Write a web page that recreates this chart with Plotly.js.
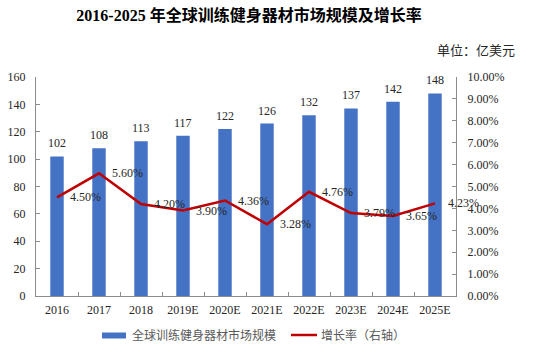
<!DOCTYPE html>
<html>
<head>
<meta charset="utf-8">
<script src="https://cdn.plot.ly/plotly-3.0.1.min.js"></script>
<style>html,body{margin:0;padding:0;background:#fff;}#chart{width:538px;height:352px;}</style>
</head>
<body>
<div id="chart"></div>
<script>
var categories = ["2016","2017","2018","2019E","2020E","2021E","2022E","2023E","2024E","2025E"];
var marketSize = [102,108,113,117,122,126,132,137,142,148];
var growthRate = [0.0450,0.0560,0.0420,0.0390,0.0436,0.0328,0.0476,0.0379,0.0365,0.0423];
var growthLabels = ["4.50%","5.60%","4.20%","3.90%","4.36%","3.28%","4.76%","3.79%","3.65%","4.23%"];
var barName = "全球训练健身器材市场规模";
var lineName = "增长率（右轴）";
var titleText = "2016-2025 年全球训练健身器材市场规模及增长率";
var unitText = "单位：亿美元";

var FONT = "'Liberation Serif', 'Times New Roman', 'Noto Sans CJK SC', serif";
var AX = "#8c8c8c";

var traces = [
  {type:"bar", x:categories, y:marketSize, name:barName, marker:{color:"#4472C4"}, yaxis:"y", hoverinfo:"none"},
  {type:"scatter", mode:"lines", x:categories, y:growthRate, name:lineName, yaxis:"y2", line:{color:"#C00000", width:2.5}, hoverinfo:"none"}
];

var annotations = [];
categories.forEach(function(c,i){
  annotations.push({x:i, y:marketSize[i], xref:"x", yref:"y", text:String(marketSize[i]), showarrow:false, yanchor:"bottom", yshift:4, font:{family:FONT,size:12,color:"#262626"}});
  annotations.push({x:i, y:growthRate[i], xref:"x", yref:"y2", text:growthLabels[i], showarrow:false, xanchor:"left", yanchor:"middle", xshift:11, font:{family:FONT,size:12,color:"#262626"}});
});

var W=538,H=352,ML=36,MR=82,MT=77,MB=56;
var PW=W-ML-MR, PH=H-MT-MB;
function px(x){return (x-ML)/PW;}
function py(y){return (H-MB-y)/PH;}

annotations.push({x:px(517), y:py(51), xref:"paper", yref:"paper", text:unitText, showarrow:false, xanchor:"right", yanchor:"middle", font:{family:FONT,size:13,color:"#262626"}});
annotations.push({x:px(130), y:py(335), xref:"paper", yref:"paper", text:barName, showarrow:false, xanchor:"left", yanchor:"middle", font:{family:FONT,size:12,color:"#595959"}});
annotations.push({x:px(319), y:py(335), xref:"paper", yref:"paper", text:lineName, showarrow:false, xanchor:"left", yanchor:"middle", font:{family:FONT,size:12,color:"#595959"}});

var shapes = [
  {type:"rect", xref:"paper", yref:"paper", x0:px(102), x1:px(126), y0:py(338.5), y1:py(332.5), fillcolor:"#4472C4", line:{width:0}},
  {type:"line", xref:"paper", yref:"paper", x0:px(291), x1:px(317), y0:py(335), y1:py(335), line:{color:"#C00000", width:2.5}}
];

var layout = {
  width:W, height:H,
  margin:{l:ML, r:MR, t:MT, b:MB, pad:0},
  paper_bgcolor:"#fff", plot_bgcolor:"#fff",
  showlegend:false,
  bargap:0.68,
  title:{text:"<b>"+titleText+"</b>", x:249/W, xanchor:"center", y:1-15/H, yanchor:"middle", font:{family:FONT, size:16, color:"#000"}},
  font:{family:FONT, size:12, color:"#262626"},
  xaxis:{type:"category", categoryorder:"array", categoryarray:categories, range:[-0.5, categories.length-0.5], autorange:false, tickangle:0, showline:true, linecolor:AX, linewidth:1, ticks:"inside", tickson:"boundaries", ticklen:4, tickcolor:AX, showgrid:false, zeroline:false, ticklabelstandoff:3, tickfont:{family:FONT,size:12,color:"#262626"}},
  yaxis:{range:[0,160], dtick:20, showline:true, linecolor:AX, linewidth:1, ticks:"inside", ticklen:4, tickcolor:AX, showgrid:false, zeroline:false, ticklabelstandoff:7, tickfont:{family:FONT,size:12,color:"#262626"}},
  yaxis2:{range:[0,0.10], dtick:0.01, tickformat:".2%", overlaying:"y", side:"right", showline:true, linecolor:AX, linewidth:1, ticks:"inside", ticklen:4, tickcolor:AX, showgrid:false, zeroline:false, ticklabelstandoff:8, tickfont:{family:FONT,size:12,color:"#262626"}},
  annotations:annotations,
  shapes:shapes
};

Plotly.newPlot("chart", traces, layout, {staticPlot:true, displayModeBar:false});
</script>
</body>
</html>
